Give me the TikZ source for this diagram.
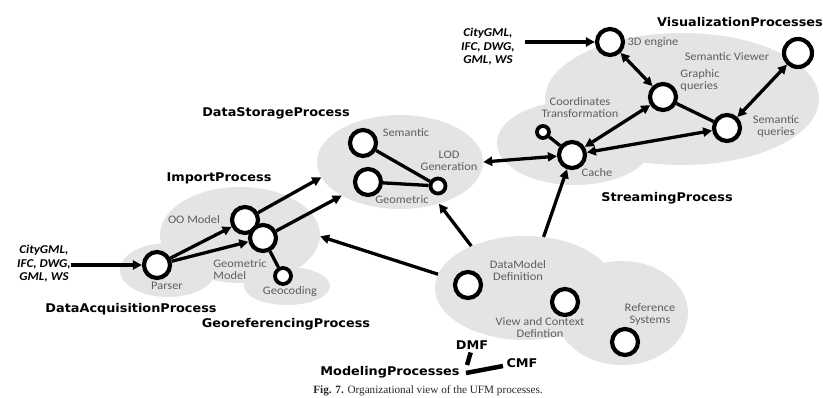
\documentclass[tikz,border=0pt]{standalone}
\usepackage{fontspec}
\usetikzlibrary{arrows.meta,shapes.geometric}
\newfontfamily\labfont{Carlito}[FakeStretch=1.08]
\newfontfamily\headfont{DejaVu Sans}[FakeStretch=1.07]
\newfontfamily\capfont{Liberation Serif}
\definecolor{blobgray}{HTML}{E4E4E4}
\definecolor{labgray}{HTML}{5E5E5E}
\begin{document}
\begin{tikzpicture}[x=1pt,y=-1pt,
  blob/.style={ellipse, fill=blobgray, draw=none, inner sep=0pt},
  proc/.style={circle, draw=black, line width=4.2pt, fill=white, minimum size=26pt, inner sep=0pt},
  smallproc/.style={proc, line width=3.8pt, minimum size=14pt},
  lab/.style={text=labgray, font=\labfont\fontsize{11.5}{12}\selectfont, inner sep=0pt, align=center},
  head/.style={font=\headfont\bfseries\fontsize{12}{14}\selectfont, inner sep=0pt},
  inp/.style={font=\labfont\bfseries\itshape\fontsize{12}{13.5}\selectfont, inner sep=0pt, align=center},
  link/.style={line width=3.3pt},
  arr/.style={link, -{Triangle[length=9pt,width=9pt]}},
  darr/.style={link, {Triangle[length=9pt,width=9pt]}-{Triangle[length=9pt,width=9pt]}},
  capt/.style={font=\capfont\fontsize{11.2}{13}\selectfont, text=black!85, inner sep=0pt}]
\useasboundingbox (0,0) rectangle (823,398);

% process regions
\node[blob, minimum width=160, minimum height=96] (impb) at (240,235) {};
\node[blob, minimum width=96, minimum height=54] (daqb) at (168,270) {};
\node[blob, minimum width=86, minimum height=38] (georb) at (287,286) {};
\node[blob, minimum width=166, minimum height=94] (dsb) at (400,162) {};
\node[blob, minimum width=156, minimum height=84] (strb) at (575,143) {};
\node[blob, minimum width=274, minimum height=132] (visb) at (682,99) {};
\node[blob, minimum width=180, minimum height=104] (dmb) at (525,288) {};
\node[blob, minimum width=132, minimum height=104] (refb) at (622,313) {};

% import / acquisition / georeferencing
\node[proc] (parser) at (157,265) {};
\node[proc] (oo) at (245,220) {};
\node[proc] (gm) at (263,238) {};
\node[smallproc, minimum size=16pt] (geoc) at (283,276) {};

% data storage
\node[proc] (sem) at (363,143) {};
\node[proc] (geom) at (368,182) {};
\node[smallproc, minimum size=15pt] (lod) at (438,186) {};

% streaming
\node[proc] (cache) at (572,155) {};
\node[smallproc, minimum size=12pt] (coord) at (543,132) {};

% visualization
\node[proc] (eng) at (610,42) {};
\node[proc] (gq) at (663,97) {};
\node[proc] (sq) at (727,128) {};
\node[proc, minimum size=28pt] (sv) at (798,53) {};

% modeling
\node[proc] (dm) at (468,285) {};
\node[proc] (vc) at (565,302) {};
\node[proc] (rs) at (625,342) {};

% node labels
\node[lab] (lparser) at (167,286) {Parser};
\node[lab] (loo) at (194,220) {OO Model};
\node[lab, align=left] (lgm) at (240,270) {Geometric\\Model};
\node[lab] (lgeoc) at (290,291) {Geocoding};
\node[lab] (lsem) at (406,133) {Semantic};
\node[lab] (llod) at (449,161) {LOD\\Generation};
\node[lab] (lgeom) at (402,200) {Geometric};
\node[lab] (lcoord) at (580,108) {Coordinates\\Transformation};
\node[lab] (lcache) at (597,173) {Cache};
\node[lab] (leng) at (653,43) {3D engine};
\node[lab] (lsv) at (727,57) {Semantic Viewer};
\node[lab, align=left] (lgq) at (700,80) {Graphic\\queries};
\node[lab] (lsq) at (776,126) {Semantic\\queries};
\node[lab] (ldm) at (518,271) {DataModel\\Definition};
\node[lab] (lvc) at (540,328) {View and Context\\Defintion};
\node[lab] (lrs) at (650,314) {Reference\\Systems};

% process names
\node[head] (himp) at (219,178) {ImportProcess};
\node[head] (hdaq) at (131,309) {DataAcquisitionProcess};
\node[head] (hgeo) at (286,324) {GeoreferencingProcess};
\node[head] (hds) at (276,113) {DataStorageProcess};
\node[head] (hstr) at (667,198) {StreamingProcess};
\node[head] (hvis) at (740,22) {VisualizationProcesses};
\node[head] (hmod) at (390,372) {ModelingProcesses};
\node[head] (hdmf) at (472,345) {DMF};
\node[head] (hcmf) at (522,363) {CMF};

% input formats
\node[inp] (in1) at (44,264) {CityGML,\\IFC, DWG,\\GML, WS};
\node[inp] (in2) at (488,47) {CityGML,\\IFC, DWG,\\GML, WS};

% connectors: import side
\draw[arr] (in1.east |- parser) -- (parser);
\draw[arr] (parser) -- (oo);
\draw[arr] (parser) -- (gm);
\draw[link] (gm) -- (geoc);
\draw[arr] (oo) -- (dsb.191);
\draw[arr] (gm) -- (dsb.210);

% connectors: data storage
\draw[link] (sem) -- (lod);
\draw[link] (geom) -- (lod);

% connectors: streaming and visualization
\draw[arr] ([xshift=10pt]in2.east |- eng) -- (eng);
\draw[darr] (eng) -- (gq);
\draw[darr] (gq) -- (cache);
\draw[link] (gq) -- (sq);
\draw[darr] (sv) -- (sq);
\draw[darr] (cache) -- (sq);
\draw[darr] (cache) -- (dsb.0);
\draw[link] (coord) -- (cache);

% connectors: modeling
\draw[arr] (dmb.142) -- (dsb.-47);
\draw[arr] (dmb.70) -- (cache);
\draw[arr] (dmb.171) -- (impb.-1);

% DMF / CMF ticks
\coordinate (d1) at (470.7,352.5);
\coordinate (d2) at (467,365);
\coordinate (c1) at (466,373);
\coordinate (c2) at (503,366);
\draw[line width=4.5pt] (d1) -- (d2);
\draw[line width=4.5pt] (c1) -- (c2);

% caption
\node[capt] (cap) at (428,391) {\textbf{Fig. 7.} Organizational view of the UFM processes.};
\end{tikzpicture}
\end{document}
